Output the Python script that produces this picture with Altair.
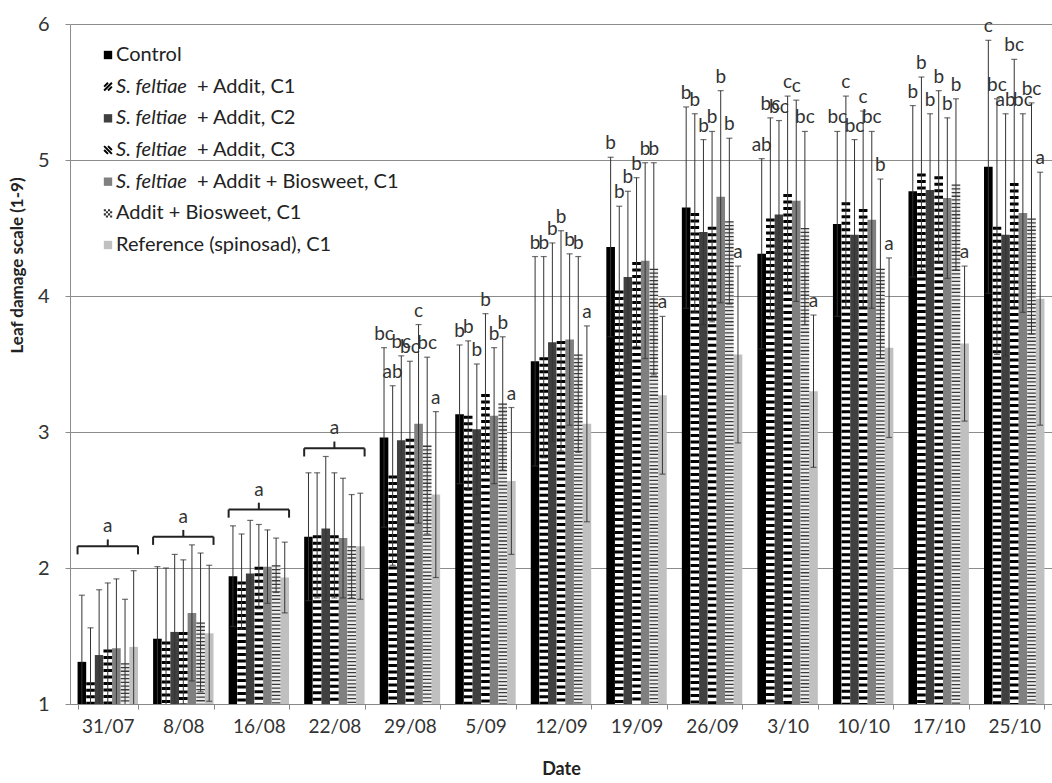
import altair as alt
import pandas as pd

dates = ["31/07", "8/08", "16/08", "22/08", "29/08", "5/09", "12/09",
         "19/09", "26/09", "3/10", "10/10", "17/10", "25/10"]
series = ["Control", "S. feltiae + Addit, C1", "S. feltiae + Addit, C2",
          "S. feltiae + Addit, C3", "S. feltiae + Addit + Biosweet, C1",
          "Addit + Biosweet, C1", "Reference (spinosad), C1"]

mean_control = [1.31, 1.48, 1.94, 2.23, 2.96, 3.13, 3.52, 4.36, 4.65, 4.31, 4.53, 4.77, 4.95]
mean_c1 = [1.16, 1.46, 1.90, 2.24, 2.68, 3.12, 3.55, 4.04, 4.61, 4.57, 4.69, 4.90, 4.51]
mean_c2 = [1.36, 1.53, 1.96, 2.29, 2.94, 3.02, 3.66, 4.14, 4.47, 4.60, 4.45, 4.78, 4.45]
mean_c3 = [1.40, 1.53, 2.01, 2.24, 2.95, 3.28, 3.67, 4.25, 4.51, 4.75, 4.64, 4.88, 4.83]
mean_bios = [1.41, 1.67, 2.01, 2.22, 3.06, 3.12, 3.68, 4.26, 4.73, 4.70, 4.56, 4.72, 4.61]
mean_ab = [1.30, 1.60, 2.02, 2.16, 2.90, 3.21, 3.57, 4.20, 4.55, 4.50, 4.20, 4.82, 4.57]
mean_ref = [1.42, 1.52, 1.93, 2.16, 2.54, 2.64, 3.06, 3.27, 3.57, 3.30, 3.62, 3.65, 3.98]

sd_control = [0.49, 0.53, 0.37, 0.47, 0.66, 0.51, 0.77, 0.66, 0.74, 0.70, 0.68, 0.63, 0.93]
sd_c1 = [0.40, 0.54, 0.35, 0.46, 0.66, 0.55, 0.74, 0.62, 0.73, 0.74, 0.78, 0.71, 0.94]
sd_c2 = [0.48, 0.57, 0.39, 0.53, 0.62, 0.48, 0.73, 0.63, 0.68, 0.69, 0.70, 0.56, 0.89]
sd_c3 = [0.49, 0.53, 0.31, 0.46, 0.57, 0.59, 0.81, 0.62, 0.70, 0.72, 0.72, 0.63, 0.91]
sd_bios = [0.51, 0.50, 0.27, 0.44, 0.73, 0.50, 0.63, 0.72, 0.78, 0.74, 0.65, 0.59, 0.73]
sd_ab = [0.47, 0.51, 0.20, 0.38, 0.65, 0.49, 0.72, 0.78, 0.61, 0.71, 0.66, 0.63, 0.85]
sd_ref = [0.56, 0.50, 0.26, 0.39, 0.61, 0.54, 0.72, 0.58, 0.65, 0.56, 0.66, 0.57, 0.93]

let_control = ["", "", "", "", "bc", "b", "b", "b", "b", "ab", "bc", "b", "c"]
let_c1 = ["", "", "", "", "ab", "b", "b", "b", "b", "bc", "c", "b", "bc"]
let_c2 = ["", "", "", "", "bc", "b", "b", "b", "b", "bc", "bc", "b", "ab"]
let_c3 = ["", "", "", "", "bc", "b", "b", "b", "b", "c", "c", "b", "bc"]
let_bios = ["", "", "", "", "c", "b", "b", "b", "b", "c", "bc", "b", "bc"]
let_ab = ["", "", "", "", "bc", "b", "b", "b", "b", "bc", "b", "b", "bc"]
let_ref = ["", "", "", "", "a", "a", "a", "a", "a", "a", "a", "a", "a"]

bracket_dates = ["31/07", "8/08", "16/08", "22/08"]
bracket_level = [2.16, 2.23, 2.43, 2.88]
bracket_letter = ["a", "a", "a", "a"]

legend_italic = ["", "S. feltiae", "S. feltiae", "S. feltiae", "S. feltiae", "", ""]
legend_rest = ["Control", "+ Addit, C1", "+ Addit, C2", "+ Addit, C3",
               "+ Addit + Biosweet, C1", "Addit + Biosweet, C1", "Reference (spinosad), C1"]

colors = ["#000000", "#ffffff", "#404040", "#ffffff", "#808080", "#ececec", "#c0c0c0"]

means = [mean_control, mean_c1, mean_c2, mean_c3, mean_bios, mean_ab, mean_ref]
sds = [sd_control, sd_c1, sd_c2, sd_c3, sd_bios, sd_ab, sd_ref]
lets = [let_control, let_c1, let_c2, let_c3, let_bios, let_ab, let_ref]

rows = []
for s, m, sd, lt in zip(series, means, sds, lets):
    for d, mv, sv, l in zip(dates, m, sd, lt):
        rows.append({"date": d, "series": s, "mean": mv,
                     "lo": mv - sv, "hi": mv + sv, "letter": l})
df = pd.DataFrame(rows)
bdf = pd.DataFrame({"date": bracket_dates, "level": bracket_level, "letter": bracket_letter})
ldf = pd.DataFrame({"series": series, "row": list(range(7)),
                    "italic": legend_italic, "rest": legend_rest})

FONT = "Lato"
xscale = alt.Scale(domain=dates, paddingInner=0.2, paddingOuter=0.1)
yscale = alt.Scale(domain=[1, 6], nice=False, zero=False)
offscale = alt.Scale(domain=series, paddingInner=0, paddingOuter=0)
cscale = alt.Scale(domain=series, range=colors)

X = alt.X("date:N", scale=xscale,
          axis=alt.Axis(title="Date", tickBand="extent", labelAngle=0,
                        labelFontSize=19, labelPadding=8, labelColor="#333",
                        titleFontSize=18, titleFontWeight="bold", titlePadding=24,
                        titleColor="#222", domainColor="#888", tickColor="#888",
                        tickSize=5, grid=False, labelFont=FONT, titleFont=FONT))
XO = alt.XOffset("series:N", scale=offscale)
Y = alt.Y("mean:Q", scale=yscale,
          axis=alt.Axis(values=[1, 2, 3, 4, 5, 6], format="d", title="Leaf damage scale (1-9)",
                        grid=True, gridColor="#8c8c8c", domainColor="#8c8c8c",
                        tickColor="#8c8c8c", tickSize=5, labelFontSize=20,
                        labelPadding=16, labelColor="#333", titleFontSize=17,
                        titleFontWeight="bold", titleColor="#222", titleX=-53,
                        titleY=241, titleAlign="center", titleAngle=-90,
                        titleBaseline="middle", labelFont=FONT, titleFont=FONT))

base = alt.Chart(df)

bars = base.mark_bar().encode(
    x=X, xOffset=XO, y=Y, y2=alt.datum(1),
    fill=alt.Fill("series:N", scale=cscale, legend=None),
)

stripes = base.transform_filter(
    alt.FieldOneOfPredicate(field="series", oneOf=[series[1], series[3]])
).mark_rule(color="#000", strokeWidth=8.6, strokeDash=[3, 3.5], strokeCap="butt").encode(
    x=X, xOffset=XO, y=Y, y2=alt.datum(1))

dots = base.transform_filter(
    alt.FieldEqualPredicate(field="series", equal=series[5])
).mark_rule(color="#3a3a3a", strokeWidth=8.6, strokeDash=[1.3, 2.4], strokeCap="butt").encode(
    x=X, xOffset=XO, y=Y, y2=alt.datum(1))

err = base.mark_rule(color="#333", strokeWidth=1, clip=True).encode(
    x=X, xOffset=XO, y=alt.Y("lo:Q", scale=yscale), y2="hi:Q")
cap_hi = base.mark_tick(color="#333", size=6, thickness=1.2, orient="horizontal", clip=True).encode(
    x=X, xOffset=XO, y=alt.Y("hi:Q", scale=yscale))
cap_lo = base.mark_tick(color="#333", size=6, thickness=1.2, orient="horizontal", clip=True).encode(
    x=X, xOffset=XO, y=alt.Y("lo:Q", scale=yscale))
letters = base.mark_text(font=FONT, fontSize=19, color="#333", baseline="bottom",
                         dy=-4).encode(
    x=X, xOffset=XO, y=alt.Y("hi:Q", scale=yscale), text="letter:N")

bbase = alt.Chart(bdf)
br_h = bbase.mark_rule(color="#222", strokeWidth=2).encode(
    x=alt.X("date:N", scale=xscale, bandPosition=0),
    x2=alt.X2("date", bandPosition=1),
    y=alt.Y("level:Q", scale=yscale))
br_l = bbase.transform_calculate(tip="datum.level - 0.06").mark_rule(color="#222", strokeWidth=2).encode(
    x=alt.X("date:N", scale=xscale, bandPosition=0),
    y=alt.Y("level:Q", scale=yscale), y2="tip:Q")
br_r = bbase.transform_calculate(tip="datum.level - 0.06").mark_rule(color="#222", strokeWidth=2).encode(
    x=alt.X("date:N", scale=xscale, bandPosition=1),
    y=alt.Y("level:Q", scale=yscale), y2="tip:Q")
br_c = bbase.transform_calculate(tip="datum.level + 0.05").mark_rule(color="#222", strokeWidth=2).encode(
    x=alt.X("date:N", scale=xscale, bandPosition=0.5),
    y=alt.Y("level:Q", scale=yscale), y2="tip:Q")
br_t = bbase.mark_text(font=FONT, fontSize=19, color="#333", baseline="middle", dy=-20).encode(
    x=alt.X("date:N", scale=xscale),
    y=alt.Y("level:Q", scale=yscale), text="letter:N")

main = alt.layer(bars, stripes, dots, err, cap_hi, cap_lo, letters,
                 br_h, br_l, br_r, br_c, br_t)

# legend
lbase = alt.Chart(ldf)
LY = alt.Y("row:Q", scale=alt.Scale(domain=[0, 6], range=[31, 221]), axis=None)
solid = lbase.transform_filter(
    alt.FieldOneOfPredicate(field="series", oneOf=[series[0], series[2], series[4], series[6]])
).mark_square(size=70, opacity=1).encode(
    x=alt.value(38), y=LY, fill=alt.Fill("series:N", scale=cscale, legend=None))
ic1 = lbase.transform_filter(alt.FieldEqualPredicate(field="series", equal=series[1])).mark_point(
    shape="M-1,0L0,-1M-1,1L1,-1M0,1L1,0", size=60, strokeWidth=2, color="#000", filled=False, opacity=1
).encode(x=alt.value(38), y=LY)
ic3 = lbase.transform_filter(alt.FieldEqualPredicate(field="series", equal=series[3])).mark_point(
    shape="M-1,0L0,1M-1,-1L1,1M0,-1L1,0", size=60, strokeWidth=2, color="#000", filled=False, opacity=1
).encode(x=alt.value(38), y=LY)
icab = lbase.transform_filter(alt.FieldEqualPredicate(field="series", equal=series[5])).mark_point(
    shape="M-1,-1h0.5v0.5h-0.5zM0,-1h0.5v0.5h-0.5zM-0.5,-0.5h0.5v0.5h-0.5zM0.5,-0.5h0.5v0.5h-0.5z"
          "M-1,0h0.5v0.5h-0.5zM0,0h0.5v0.5h-0.5zM-0.5,0.5h0.5v0.5h-0.5zM0.5,0.5h0.5v0.5h-0.5z",
    size=70, filled=True, color="#333", opacity=1
).encode(x=alt.value(38), y=LY)
ital = lbase.transform_filter("datum.italic != ''").mark_text(
    font=FONT, fontSize=20, fontStyle="italic", color="#222", align="left", baseline="middle"
).encode(x=alt.value(46), y=LY, text="italic:N")
rest_i = lbase.transform_filter("datum.italic != ''").mark_text(
    font=FONT, fontSize=20, color="#222", align="left", baseline="middle"
).encode(x=alt.value(127), y=LY, text="rest:N")
rest_n = lbase.transform_filter("datum.italic == ''").mark_text(
    font=FONT, fontSize=20, color="#222", align="left", baseline="middle"
).encode(x=alt.value(46), y=LY, text="rest:N")

legend = alt.layer(solid, ic1, ic3, icab, ital, rest_i, rest_n)

chart = alt.layer(main, legend).resolve_scale(y="independent").properties(
    width=982, height=680,
    autosize=alt.AutoSizeParams(type="none"),
    padding={"left": 70, "top": 24, "right": 0, "bottom": 79},
).configure_view(stroke=None)

chart.save("out.html", embed_options={"renderer": "svg", "actions": False})
